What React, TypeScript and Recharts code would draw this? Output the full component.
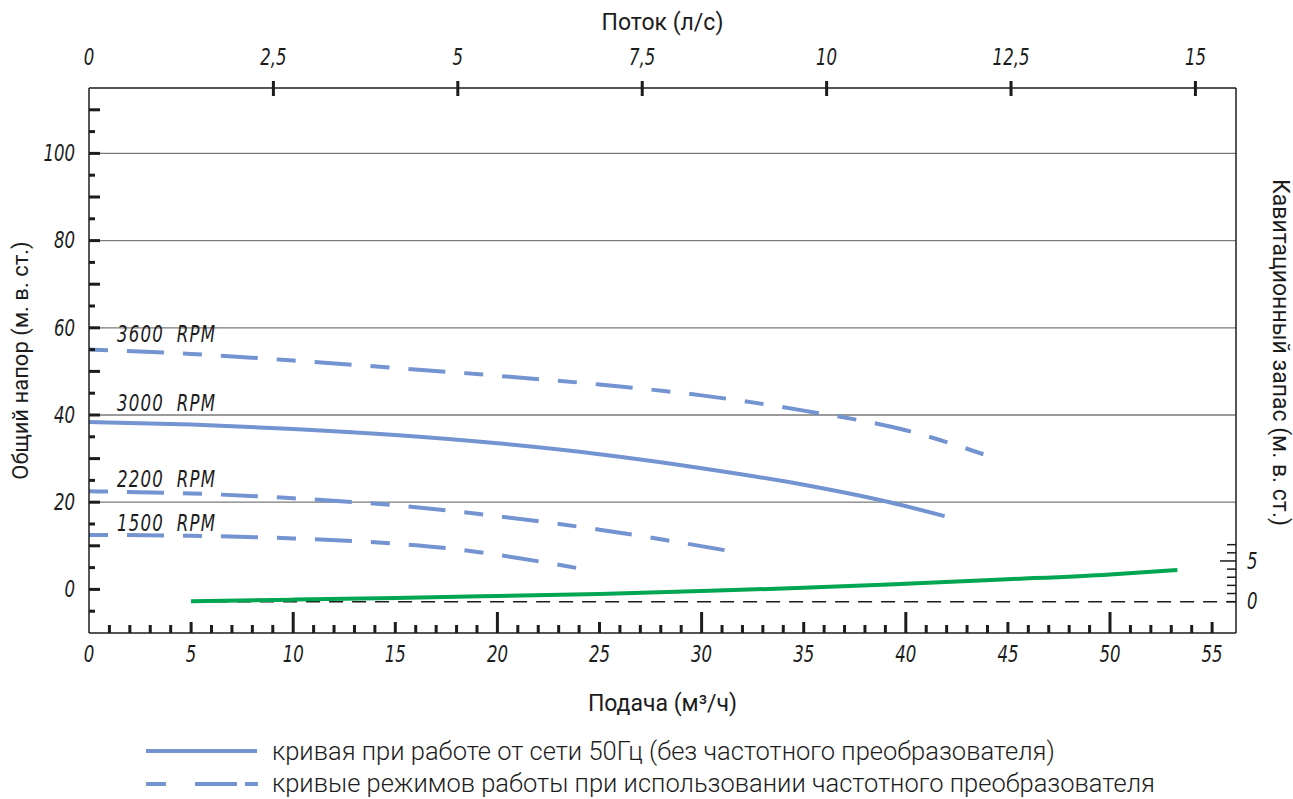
import React from "react";
import { LineChart, Line, XAxis, YAxis, ReferenceLine } from "recharts";

// flow in m³/h along the bottom axis, head in m on the left axis
const Q_3600 = [0, 5, 10, 15, 20, 25, 30, 35, 40, 43.8];
const H_3600 = [55.0, 54.0, 52.5, 50.8, 49.0, 47.0, 44.5, 41.0, 36.5, 31.0];

const Q_3000 = [0, 5, 10, 15, 20, 25, 30, 35, 39.2, 41.9];
const H_3000 = [38.4, 37.8, 36.8, 35.4, 33.5, 31.0, 27.8, 24.0, 20.0, 16.8];

const Q_2200 = [0, 5, 10, 15, 20, 25, 31.5];
const H_2200 = [22.5, 22.0, 20.9, 19.3, 16.8, 13.7, 8.7];

const Q_1500 = [0, 5, 10, 15, 18, 21, 23.9];
const H_1500 = [12.5, 12.3, 11.7, 10.5, 9.2, 7.2, 4.9];

// NPSH curve (right axis)
const Q_NPSH = [5, 10, 15, 20, 25, 30, 35, 40, 45, 50, 53.3];
const NPSH = [0.05, 0.25, 0.45, 0.7, 0.95, 1.3, 1.7, 2.2, 2.75, 3.35, 3.9];

const FLOW_TICKS = Array.from({ length: 56 }, (_, i) => i);
const LS_TICKS = [0, 2.5, 5, 7.5, 10, 12.5, 15];
const HEAD_TICKS = Array.from({ length: 24 }, (_, i) => -5 + i * 5);
const HEAD_GRID = [20, 40, 60, 80, 100];
const NPSH_TICKS = [0, 1, 2, 3, 4, 5, 6, 7];

const BLUE = "#7393d1";
const GREEN = "#00a651";
const INK = "#1c1c1c";
const DASH = "19 19 37 19";

const TICK_FONT = '"DejaVu Sans Condensed", "DejaVu Sans", sans-serif';
const TITLE_FONT = 'Roboto, "Noto Sans", sans-serif';

const toPoints = (qs: number[], hs: number[]) => qs.map((q, i) => ({ q, h: hs[i] }));

const d3600 = toPoints(Q_3600, H_3600);
const d3000 = toPoints(Q_3000, H_3000);
const d2200 = toPoints(Q_2200, H_2200);
const d1500 = toPoints(Q_1500, H_1500);
const dNpsh = Q_NPSH.map((q, i) => ({ q, n: NPSH[i] }));

// narrow italic "drafting" text
function Narrow({ x, y, anchor = "middle", children, spacing = 0 }: any) {
  return (
    <text
      transform={`translate(${x} ${y}) scale(0.8 1)`}
      x={0}
      y={0}
      textAnchor={anchor}
      dominantBaseline="central"
      fontFamily={TICK_FONT}
      fontStyle="italic"
      fontSize={23}
      fill={INK}
      letterSpacing={spacing}
      style={{ whiteSpace: "pre" }}
    >
      {children}
    </text>
  );
}

function LeftTick({ x, y, payload }: any) {
  const v = payload.value;
  const major = v % 10 === 0;
  return (
    <g>
      <line x1={x} x2={x + (major ? 11 : 6)} y1={y} y2={y} stroke={INK} strokeWidth={3} />
      {v >= 0 && v <= 100 && v % 20 === 0 && (
        <Narrow x={x - 14} y={y} anchor="end">
          {v}
        </Narrow>
      )}
    </g>
  );
}

function BottomTick({ x, y, payload }: any) {
  const v = payload.value;
  const len = v % 10 === 0 ? 21 : v % 5 === 0 ? 11 : 8;
  return (
    <g>
      {v > 0 && <line x1={x} x2={x} y1={y} y2={y - len} stroke={INK} strokeWidth={3} />}
      {v % 5 === 0 && (
        <Narrow x={x} y={y + 21}>
          {v}
        </Narrow>
      )}
    </g>
  );
}

function TopTick({ x, y, payload }: any) {
  const v = payload.value;
  return (
    <g>
      {v > 0 && <line x1={x} x2={x} y1={y - 7} y2={y + 8} stroke={INK} strokeWidth={3} />}
      <Narrow x={x} y={y - 31}>
        {String(v).replace(".", ",")}
      </Narrow>
    </g>
  );
}

function RightTick({ x, y, payload }: any) {
  const v = payload.value;
  const len = v === 5 ? 16 : 9;
  return (
    <g>
      <line x1={x} x2={x - len} y1={y} y2={y} stroke={INK} strokeWidth={1.5} />
      {(v === 0 || v === 5) && (
        <Narrow x={x + 11} y={y} anchor="start">
          {v}
        </Narrow>
      )}
    </g>
  );
}

function rpmLabel(text: string, dy: number) {
  return (p: any) =>
    p.index === 0 ? (
      <g key="lbl">
        <Narrow x={p.x + 28} y={p.y + dy} anchor="start" spacing={1.5}>
          {text}
        </Narrow>
      </g>
    ) : (
      <g key={p.index} />
    );
}

const titleStyle = { fontFamily: TITLE_FONT, fontSize: 23, fill: INK };

export default function App() {
  return (
    <div style={{ position: "absolute", left: 0, top: 0, width: 1293, height: 799, background: "#fff" }}>
      <LineChart width={1293} height={734} margin={{ top: 38, right: 17, bottom: 41, left: 29 }}>
        <XAxis
          xAxisId="q"
          dataKey="q"
          type="number"
          domain={[0, 56.17]}
          allowDataOverflow
          ticks={FLOW_TICKS}
          interval={0}
          height={60}
          tickSize={0}
          tickMargin={0}
          tickLine={false}
          axisLine={{ stroke: INK, strokeWidth: 1.5 }}
          tick={<BottomTick />}
          label={{
            content: ({ viewBox }: any) => (
              <text
                x={viewBox.x + viewBox.width / 2}
                y={viewBox.y + 70}
                textAnchor="middle"
                dominantBaseline="central"
                {...titleStyle}
              >
                Подача (м³/ч)
              </text>
            ),
          }}
        />
        <XAxis
          xAxisId="ls"
          dataKey="ls"
          orientation="top"
          type="number"
          domain={[0, 15.55]}
          allowDataOverflow
          ticks={LS_TICKS}
          interval={0}
          height={50}
          tickSize={0}
          tickMargin={0}
          tickLine={false}
          axisLine={{ stroke: INK, strokeWidth: 1.5 }}
          tick={<TopTick />}
          label={{
            content: ({ viewBox }: any) => (
              <text
                x={viewBox.x + viewBox.width / 2}
                y={viewBox.y - 16}
                textAnchor="middle"
                dominantBaseline="central"
                {...titleStyle}
              >
                Поток (л/с)
              </text>
            ),
          }}
        />
        <YAxis
          yAxisId="head"
          type="number"
          domain={[-10, 115]}
          allowDataOverflow
          ticks={HEAD_TICKS}
          interval={0}
          width={60}
          tickSize={0}
          tickMargin={0}
          tickLine={false}
          axisLine={{ stroke: INK, strokeWidth: 1.5 }}
          tick={<LeftTick />}
          label={{
            content: ({ viewBox }: any) => {
              const cx = viewBox.x - 9;
              const cy = viewBox.y + viewBox.height / 2;
              return (
                <text
                  x={cx}
                  y={cy}
                  textAnchor="middle"
                  dominantBaseline="central"
                  transform={`rotate(-90 ${cx} ${cy})`}
                  {...titleStyle}
                  fontSize={22}
                >
                  Общий напор (м. в. ст.)
                </text>
              );
            },
          }}
        />
        <YAxis
          yAxisId="npsh"
          orientation="right"
          type="number"
          domain={[-3.85, 63.1]}
          allowDataOverflow
          ticks={NPSH_TICKS}
          interval={0}
          width={40}
          tickSize={0}
          tickMargin={0}
          tickLine={false}
          axisLine={{ stroke: INK, strokeWidth: 1.5 }}
          tick={<RightTick />}
          label={{
            content: ({ viewBox }: any) => {
              const cx = viewBox.x + 44;
              const cy = viewBox.y + viewBox.height / 2 - 8;
              return (
                <text
                  x={cx}
                  y={cy}
                  textAnchor="middle"
                  dominantBaseline="central"
                  transform={`rotate(90 ${cx} ${cy})`}
                  {...titleStyle}
                >
                  Кавитационный запас (м. в. ст.)
                </text>
              );
            },
          }}
        />

        {HEAD_GRID.map((v) => (
          <ReferenceLine key={v} xAxisId="q" yAxisId="head" y={v} stroke="#7a7a7a" strokeWidth={1.3} />
        ))}
        <ReferenceLine
          xAxisId="q"
          yAxisId="npsh"
          segment={[
            { x: 5, y: 0 },
            { x: 56.17, y: 0 },
          ]}
          stroke={INK}
          strokeWidth={1.5}
          strokeDasharray="14 9"
        />

        <Line
          xAxisId="q"
          yAxisId="head"
          data={d3600}
          dataKey="h"
          type="monotone"
          stroke={BLUE}
          strokeWidth={4}
          strokeDasharray={DASH}
          dot={false}
          activeDot={false}
          label={rpmLabel("3600  RPM", -15)}
          isAnimationActive={false}
        />
        <Line
          xAxisId="q"
          yAxisId="head"
          data={d3000}
          dataKey="h"
          type="monotone"
          stroke={BLUE}
          strokeWidth={4}
          dot={false}
          activeDot={false}
          label={rpmLabel("3000  RPM", -19)}
          isAnimationActive={false}
        />
        <Line
          xAxisId="q"
          yAxisId="head"
          data={d2200}
          dataKey="h"
          type="monotone"
          stroke={BLUE}
          strokeWidth={4}
          strokeDasharray={DASH}
          dot={false}
          activeDot={false}
          label={rpmLabel("2200  RPM", -12)}
          isAnimationActive={false}
        />
        <Line
          xAxisId="q"
          yAxisId="head"
          data={d1500}
          dataKey="h"
          type="monotone"
          stroke={BLUE}
          strokeWidth={4}
          strokeDasharray={DASH}
          dot={false}
          activeDot={false}
          label={rpmLabel("1500  RPM", -12)}
          isAnimationActive={false}
        />
        <Line
          xAxisId="q"
          yAxisId="npsh"
          data={dNpsh}
          dataKey="n"
          type="monotone"
          stroke={GREEN}
          strokeWidth={4}
          dot={false}
          activeDot={false}
          isAnimationActive={false}
        />
      </LineChart>

      <svg width={1293} height={65} style={{ position: "absolute", left: 0, top: 734 }}>
        <line x1={146} x2={257} y1={17} y2={17} stroke={BLUE} strokeWidth={4} />
        <text x={272} y={17} dominantBaseline="central" fontFamily={TITLE_FONT} fontSize={25.5} fontWeight={300} fill={INK}>
          кривая при работе от сети 50Гц (без частотного преобразователя)
        </text>
        <line x1={146} x2={258} y1={50} y2={50} stroke={BLUE} strokeWidth={4} strokeDasharray="20 29 42 8 13" />
        <text x={272} y={49} dominantBaseline="central" fontFamily={TITLE_FONT} fontSize={25.5} fontWeight={300} fill={INK}>
          кривые режимов работы при использовании частотного преобразователя
        </text>
      </svg>
    </div>
  );
}
